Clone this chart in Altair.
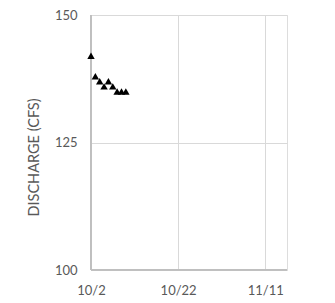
import altair as alt
import pandas as pd

dates = ["2019-10-02", "2019-10-03", "2019-10-04", "2019-10-05", "2019-10-06",
         "2019-10-07", "2019-10-08", "2019-10-09", "2019-10-10"]
discharge = [142, 138, 137, 136, 137, 136, 135, 135, 135]

df = pd.DataFrame({"date": dates, "q": discharge})

FONT = "Lato"
GRAY = "#595959"

points = alt.Chart(df).mark_point(shape="triangle-up", filled=True, color="black", size=55, opacity=1).encode(
    x=alt.X("date:T",
            scale=alt.Scale(domain=[alt.DateTime(year=2019, month=10, date=2),
                                    alt.DateTime(year=2019, month=11, date=16)]),
            axis=alt.Axis(values=[alt.DateTime(year=2019, month=10, date=2),
                                  alt.DateTime(year=2019, month=10, date=22),
                                  alt.DateTime(year=2019, month=11, date=11)],
                          format="%-m/%-d", title=None, ticks=False, domain=False,
                          labelFont=FONT, labelFontSize=13, labelColor=GRAY,
                          labelPadding=14, grid=True, gridColor="#d9d9d9",
                          labelFlush=False)),
    y=alt.Y("q:Q",
            scale=alt.Scale(domain=[100, 150], nice=False, zero=False),
            axis=alt.Axis(values=[100, 125, 150], title="DISCHARGE (CFS)",
                          ticks=False, domain=False, labelFont=FONT, labelFontSize=13,
                          labelColor=GRAY, labelPadding=14, grid=True, gridColor="#d9d9d9",
                          titleFont=FONT, titleFontSize=14.5, titleFontWeight="normal",
                          titleColor=GRAY, titleX=-53, titleY=142,
                          titleBaseline="alphabetic")),
)

left_axis = alt.Chart(df).mark_rule(color="#bfbfbf").encode(
    x=alt.value(0), y=alt.value(0), y2=alt.value(255))
bottom_axis = alt.Chart(df).mark_rule(color="#bfbfbf").encode(
    x=alt.value(0), x2=alt.value(196), y=alt.value(255))

chart = alt.layer(left_axis, bottom_axis, points).properties(
    width=196, height=255,
    autosize=alt.AutoSizeParams(type="none"),
    padding={"left": 83, "top": 7, "right": 30, "bottom": 30},
).configure_view(stroke=None).configure(background="white")

chart.save("out.html", embed_options={"renderer": "svg", "actions": False})
